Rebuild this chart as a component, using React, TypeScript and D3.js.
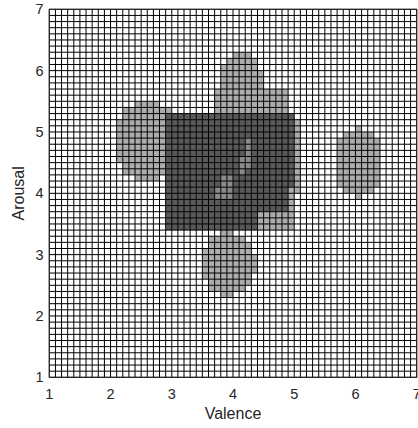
import React, { useRef, useEffect } from 'react';
import * as d3 from 'd3';

const xTicks = [1, 2, 3, 4, 5, 6, 7];
const yTicks = [1, 2, 3, 4, 5, 6, 7];
const cellStep = 0.1;

// light grey blobs: [cx, cy, rx, ry] in valence/arousal units
const lightBlobs = [
  [4.12, 5.85, 0.35, 0.45],
  [2.6, 4.85, 0.55, 0.65],
  [3.92, 2.85, 0.45, 0.52],
  [6.05, 4.5, 0.4, 0.55],
];
// light grey blocks: [x0, x1, y0, y1]
const lightBlocks = [
  [3.7, 4.95, 5.3, 5.7],
  [5.0, 5.1, 4.0, 5.2],
  [4.9, 5.0, 3.7, 4.1],
  [4.4, 5.0, 3.4, 3.7],
];
// dark blocks
const darkBlocks = [
  [2.9, 5.0, 4.1, 5.3],
  [2.9, 4.9, 3.7, 4.1],
  [2.9, 4.4, 3.4, 3.7],
];
// lighter patches inside the dark area
const midBlocks = [
  [4.2, 4.3, 4.4, 4.9],
  [4.1, 4.2, 4.3, 4.6],
  [3.8, 4.0, 3.9, 4.3],
  [3.7, 3.8, 3.9, 4.1],
];
const levelColors = ['#ffffff', '#acacac', '#8a8a8a', '#595959'];

const inBlock = (b, x, y) => x > b[0] && x < b[1] && y > b[2] && y < b[3];
const inBlob = (b, x, y) => ((x - b[0]) / b[2]) ** 2 + ((y - b[1]) / b[3]) ** 2 <= 1;

function App() {
  const ref = useRef(null);

  useEffect(() => {
    const svg = d3.select(ref.current);
    svg.selectAll('*').remove();

    const left = 49.3, right = 416.7, top = 9.3, bottom = 377.3;
    const x = d3.scaleLinear().domain([1, 7]).range([left, right]);
    const y = d3.scaleLinear().domain([1, 7]).range([bottom, top]);

    const n = Math.round(6 / cellStep);
    const cells = [];
    d3.range(n).forEach((i) => {
      d3.range(n).forEach((j) => {
        const cx = 1 + (i + 0.5) * cellStep;
        const cy = 1 + (j + 0.5) * cellStep;
        let level = 0;
        if (lightBlobs.some((b) => inBlob(b, cx, cy)) || lightBlocks.some((b) => inBlock(b, cx, cy))) level = 1;
        if (darkBlocks.some((b) => inBlock(b, cx, cy))) level = 3;
        if (midBlocks.some((b) => inBlock(b, cx, cy))) level = 2;
        if (level > 0) cells.push({ i, j, level });
      });
    });

    svg.append('rect')
      .attr('x', left).attr('y', top)
      .attr('width', right - left).attr('height', bottom - top)
      .attr('fill', '#fff');

    svg.append('g')
      .selectAll('rect')
      .data(cells)
      .join('rect')
      .attr('x', (d) => x(1 + d.i * cellStep))
      .attr('y', (d) => y(1 + (d.j + 1) * cellStep))
      .attr('width', x(1 + cellStep) - x(1))
      .attr('height', y(1) - y(1 + cellStep))
      .attr('fill', (d) => levelColors[d.level]);

    const lines = d3.range(n + 1).map((k) => 1 + k * cellStep);
    const grid = svg.append('g').attr('stroke', '#000').attr('stroke-width', 1);
    grid.selectAll('.v').data(lines).join('line').attr('class', 'v')
      .attr('x1', (d) => x(d)).attr('x2', (d) => x(d))
      .attr('y1', top).attr('y2', bottom);
    grid.selectAll('.h').data(lines).join('line').attr('class', 'h')
      .attr('y1', (d) => y(d)).attr('y2', (d) => y(d))
      .attr('x1', left).attr('x2', right);

    svg.append('rect')
      .attr('x', left).attr('y', top)
      .attr('width', right - left).attr('height', bottom - top)
      .attr('fill', 'none').attr('stroke', '#262626').attr('stroke-width', 1);

    const font = '"Liberation Sans", Arial, sans-serif';

    svg.append('g')
      .selectAll('text')
      .data(xTicks)
      .join('text')
      .attr('x', (d) => x(d))
      .attr('y', 399)
      .attr('text-anchor', 'middle')
      .attr('font-family', font)
      .attr('font-size', 14.5)
      .attr('fill', '#262626')
      .text((d) => d);

    svg.append('g')
      .selectAll('text')
      .data(yTicks)
      .join('text')
      .attr('x', 43.5)
      .attr('y', (d) => y(d) + 5)
      .attr('text-anchor', 'end')
      .attr('font-family', font)
      .attr('font-size', 14.5)
      .attr('fill', '#262626')
      .text((d) => d);

    svg.append('text')
      .attr('x', (left + right) / 2)
      .attr('y', 419)
      .attr('text-anchor', 'middle')
      .attr('font-family', font)
      .attr('font-size', 16)
      .attr('fill', '#262626')
      .text('Valence');

    svg.append('text')
      .attr('transform', 'rotate(-90)')
      .attr('x', -(top + bottom) / 2)
      .attr('y', 24)
      .attr('text-anchor', 'middle')
      .attr('font-family', font)
      .attr('font-size', 16)
      .attr('fill', '#262626')
      .text('Arousal');
  }, []);

  return (
    <svg ref={ref} width={418} height={428} style={{ position: 'absolute', left: 0, top: 0 }}></svg>
  );
}

export default App;
